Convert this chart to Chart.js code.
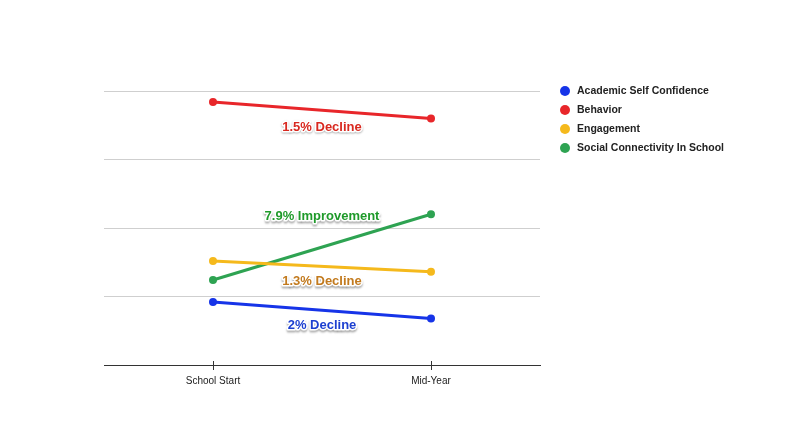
<!DOCTYPE html>
<html>
<head>
<meta charset="utf-8">
<script src="https://cdn.jsdelivr.net/npm/chart.js@4/dist/chart.umd.min.js"></script>
<style>
  html, body { margin: 0; padding: 0; background: #fff; }
  #wrap { width: 800px; height: 438px; position: relative; }
</style>
</head>
<body>
<div id="wrap"><canvas id="chart" width="800" height="438"></canvas></div>
<script>
// Data
const categories = ['School Start', 'Mid-Year'];
const seriesNames = ['Academic Self Confidence', 'Behavior', 'Engagement', 'Social Connectivity In School'];
const academic = [2.98, 2.92];
const behavior = [3.71, 3.65];
const engagement = [3.13, 3.09];
const social = [3.06, 3.30];
const lineColors = ['#1634e8', '#e8262a', '#f5b91c', '#2ea352'];
const labelColors = ['#1c3fd0', '#d8281f', '#c27a1e', '#1f9a2a'];
const changeLabels = ['2% Decline', '1.5% Decline', '1.3% Decline', '7.9% Improvement'];
const changeLabelY = [2.893, 3.618, 3.054, 3.292];
const yMin = 2.75, yMax = 3.75, yStep = 0.25;

const seriesValues = [academic, behavior, engagement, social];
const FONT = 'Arial, "Liberation Sans", sans-serif';

// change labels drawn midway between the two categories
const changeLabelPlugin = {
  id: 'changeLabels',
  afterDatasetsDraw(chart) {
    const ctx = chart.ctx;
    const xs = chart.scales.x, ys = chart.scales.y;
    const midX = (xs.getPixelForValue(0) + xs.getPixelForValue(1)) / 2;
    ctx.save();
    ctx.font = 'bold 13px ' + FONT;
    ctx.textAlign = 'center';
    ctx.textBaseline = 'middle';
    changeLabels.forEach((txt, i) => {
      const y = ys.getPixelForValue(changeLabelY[i]);
      ctx.save();
      ctx.shadowColor = 'rgba(0,0,0,0.3)';
      ctx.shadowBlur = 2;
      ctx.shadowOffsetY = 1.5;
      ctx.lineWidth = 3;
      ctx.strokeStyle = '#fff';
      ctx.lineJoin = 'round';
      ctx.strokeText(txt, midX, y);
      ctx.restore();
      ctx.fillStyle = labelColors[i];
      ctx.fillText(txt, midX, y);
    });
    ctx.restore();
  }
};

// tick marks at each category + legend on the right
const extrasPlugin = {
  id: 'extras',
  afterDraw(chart) {
    const ctx = chart.ctx;
    const xs = chart.scales.x;
    const area = chart.chartArea;
    ctx.save();
    ctx.strokeStyle = '#333';
    ctx.lineWidth = 1;
    categories.forEach((c, i) => {
      const x = Math.round(xs.getPixelForValue(i)) + 0.5;
      ctx.beginPath();
      ctx.moveTo(x, area.bottom - 4);
      ctx.lineTo(x, area.bottom + 5);
      ctx.stroke();
    });
    // legend
    ctx.font = 'bold 10.5px ' + FONT;
    ctx.textAlign = 'left';
    ctx.textBaseline = 'middle';
    chart.data.datasets.forEach((ds, i) => {
      const y = area.top + i * 19;
      ctx.fillStyle = ds.borderColor;
      ctx.beginPath();
      ctx.arc(area.right + 25, y, 5, 0, Math.PI * 2);
      ctx.fill();
      ctx.fillStyle = '#222';
      ctx.fillText(ds.label, area.right + 37, y);
    });
    ctx.restore();
  }
};

new Chart(document.getElementById('chart'), {
  type: 'line',
  data: {
    labels: categories,
    datasets: seriesNames.map((name, i) => ({
      label: name,
      data: seriesValues[i],
      borderColor: lineColors[i],
      backgroundColor: lineColors[i],
      borderWidth: 3,
      pointRadius: 4,
      pointHoverRadius: 4,
      pointBorderWidth: 0,
      tension: 0
    }))
  },
  options: {
    responsive: false,
    animation: false,
    layout: { padding: { top: 91, left: 104, right: 260, bottom: 41 } },
    plugins: {
      tooltip: { enabled: false },
      legend: { display: false }
    },
    scales: {
      x: {
        offset: true,
        grid: { display: false, drawTicks: false },
        border: { color: '#333', width: 1 },
        ticks: {
          color: '#222',
          padding: 10,
          font: { family: FONT, size: 10 }
        }
      },
      y: {
        min: yMin,
        max: yMax,
        ticks: { stepSize: yStep, display: false },
        grid: { color: '#cfcfcf', drawTicks: false },
        border: { display: false }
      }
    }
  },
  plugins: [changeLabelPlugin, extrasPlugin]
});
</script>
</body>
</html>
